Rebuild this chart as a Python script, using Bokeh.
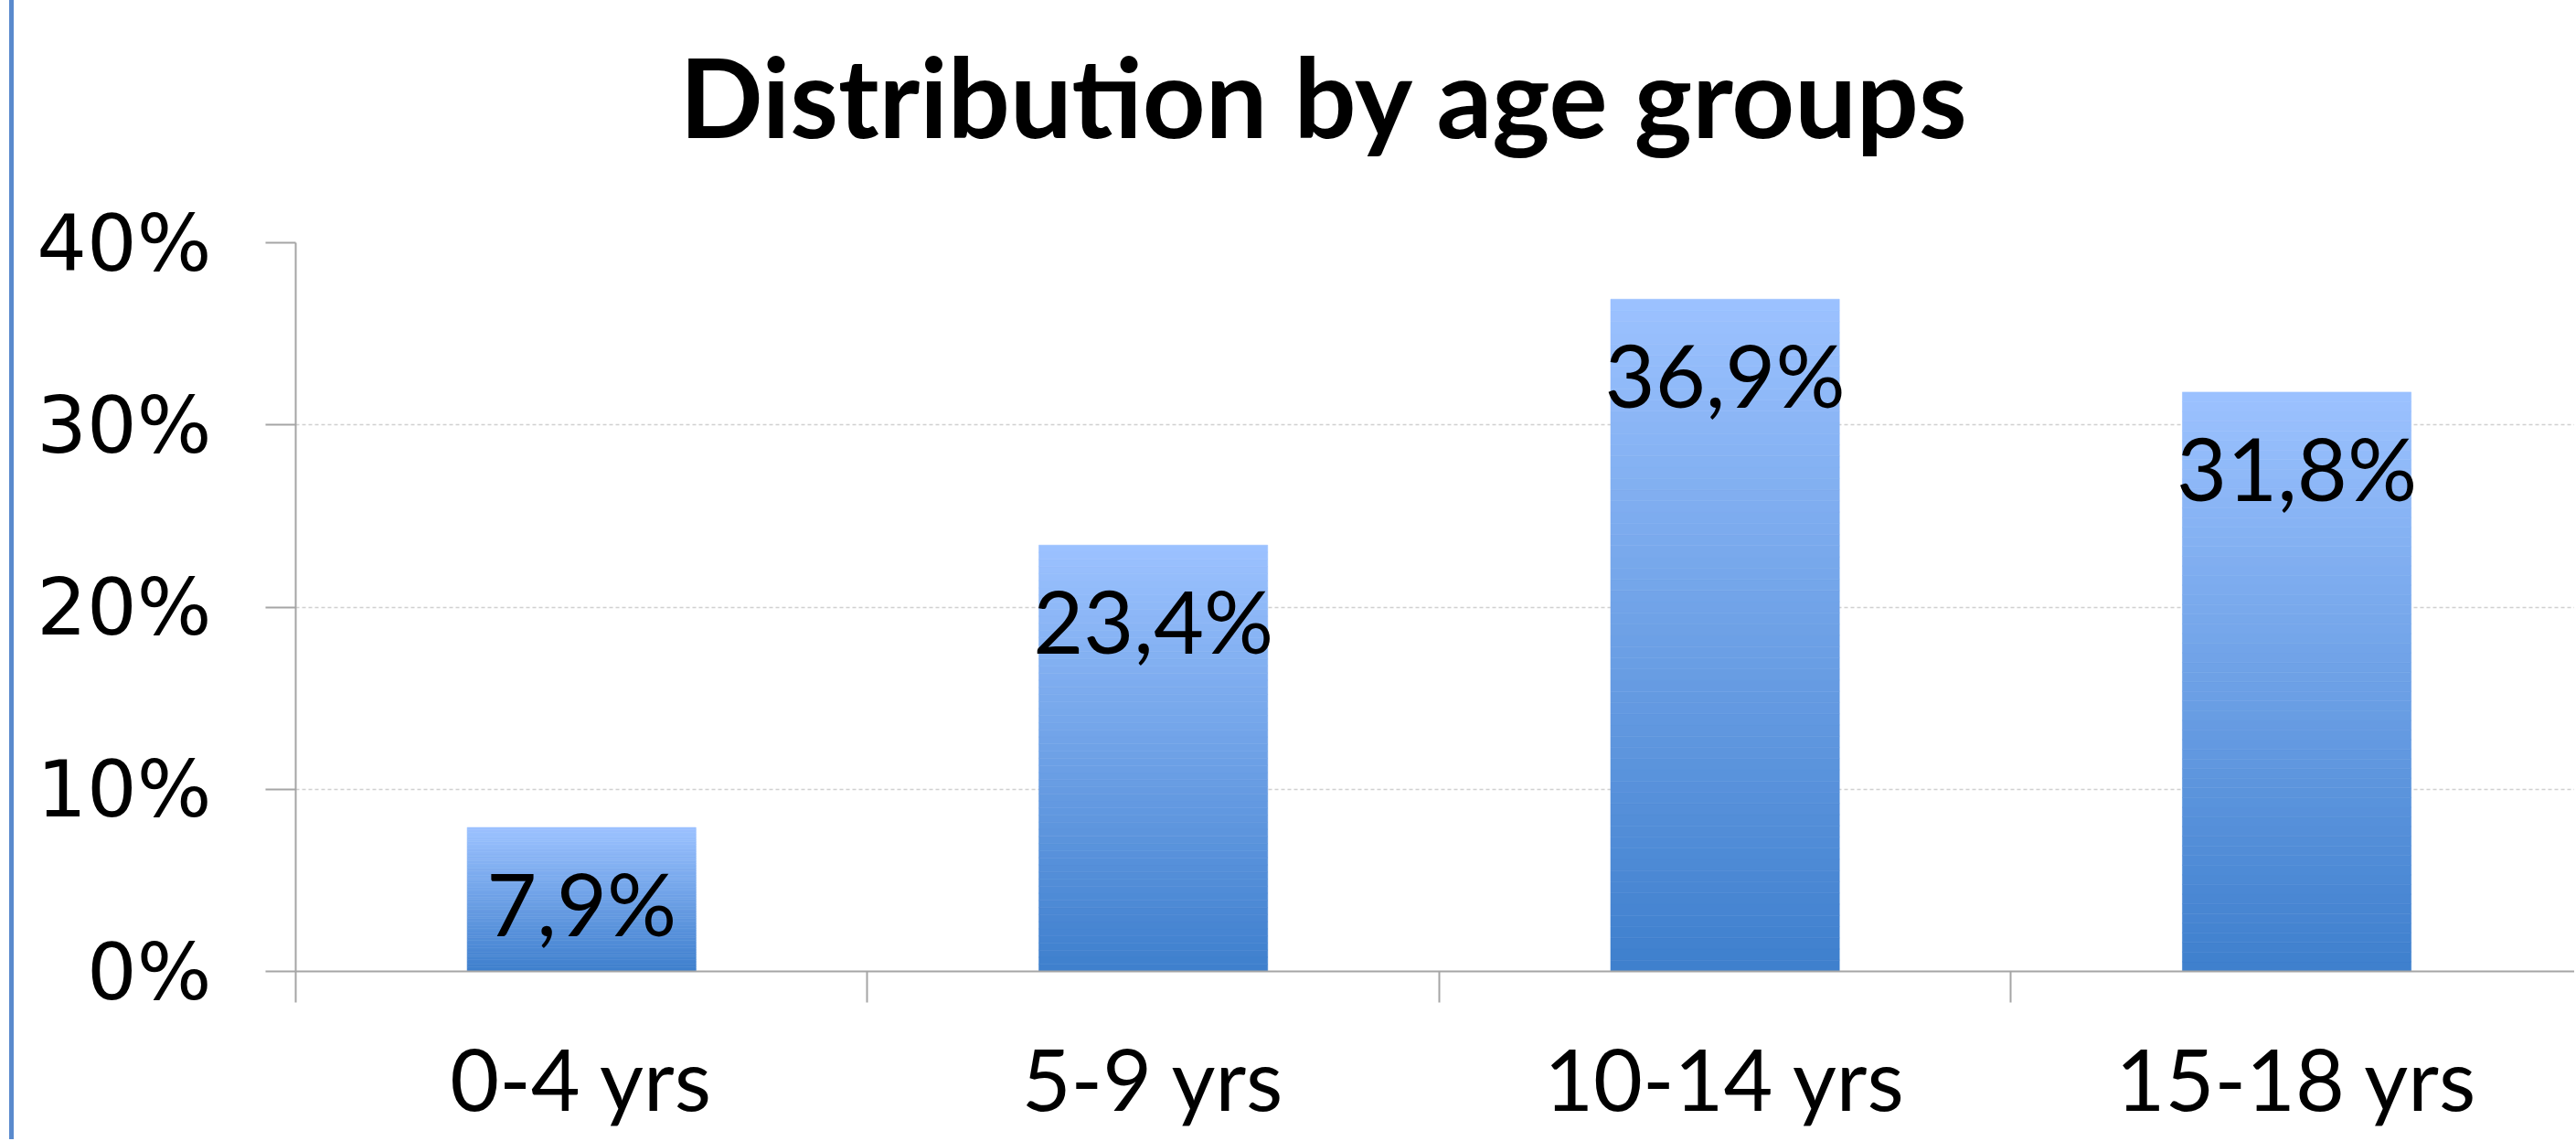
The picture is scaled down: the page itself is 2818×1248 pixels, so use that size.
from bokeh.plotting import figure
from bokeh.models import (Range1d, FixedTicker, PrintfTickFormatter, Title,
                          ColumnDataSource)
from bokeh.core.properties import value
from bokeh.embed import file_html
from bokeh.resources import INLINE

# ---- data ----
categories = ["0-4 yrs", "5-9 yrs", "10-14 yrs", "15-18 yrs"]
shares = [7.9, 23.4, 36.9, 31.8]          # percent
y_ticks = [0, 10, 20, 30, 40]
title_text = "Distribution by age groups"

# ---- styling ----
TOP_RGB = (156, 194, 255)
BOT_RGB = (62, 127, 205)
N_STRIPS = 60
W, H = 2816, 1246

def mix(t):
    r = [round(BOT_RGB[i] + (TOP_RGB[i] - BOT_RGB[i]) * t) for i in range(3)]
    return "#%02x%02x%02x" % tuple(r)

p = figure(width=W, height=H, output_backend="svg", toolbar_location=None,
           x_range=Range1d(0, 3.986), y_range=Range1d(0, 40),
           min_border_left=323, min_border_right=0, min_border_top=265,
           min_border_bottom=H - 265 - 797, outline_line_color=None,
           background_fill_color="white", border_fill_color=None)
# thin blue frame line at the left edge of the picture
p.styles = {"background": "linear-gradient(to right, #ffffff 10px, #5A8ACD 10px, "
                          "#5A8ACD 15px, #ffffff 15px)"}

# blank spacer between title and plot area (closest to the frame)
p.add_layout(Title(text=" ", text_font_size="1px", standoff=86), "above")

# title (stacked above the spacer)
p.add_layout(Title(text=title_text, align="left", offset=420, standoff=0,
                   text_font="Lato", text_font_style="bold",
                   text_font_size="120px", text_color="black"), "above")

# gradient bars: each bar drawn as stacked thin slices of its own height
xs, bottoms, tops, colors = [], [], [], []
for i, v in enumerate(shares):
    for k in range(N_STRIPS):
        xs.append(i + 0.5)
        bottoms.append(v * k / N_STRIPS)
        tops.append(v * (k + 1) / N_STRIPS)
        colors.append(mix((k + 0.5) / N_STRIPS))
bar_src = ColumnDataSource(dict(x=xs, bottom=bottoms, top=tops, color=colors))
p.vbar(x="x", bottom="bottom", top="top", width=0.4, source=bar_src,
       fill_color="color", line_color="color", line_width=0.6)

# data labels
lab_src = ColumnDataSource(dict(
    x=[i + 0.5 for i in range(len(shares))],
    y=shares,
    text=[("%.1f" % v).replace(".", ",") + "%" for v in shares]))
p.text(x="x", y="y", text="text", source=lab_src, text_align="center",
       text_baseline="alphabetic", y_offset=82,
       text_font=value("Lato"), text_font_size="95px", text_color="black")

# y axis
yax = p.left[0]
yax.ticker = FixedTicker(ticks=y_ticks, minor_ticks=[])
yax.formatter = PrintfTickFormatter(format="%d%%")
yax.major_tick_out = 33
yax.major_tick_in = 0
yax.minor_tick_out = 0
yax.major_label_standoff = 59
yax.major_label_text_font = "DejaVu Sans"
yax.major_label_text_font_size = "86px"
yax.major_label_text_color = "black"
yax.axis_line_color = "#A5A5A5"
yax.axis_line_width = 2
yax.major_tick_line_color = "#A5A5A5"
yax.major_tick_line_width = 2

# x axis: labels at category centres, tick marks at category boundaries
xax = p.below[0]
xax.ticker = FixedTicker(ticks=[i + 0.5 for i in range(len(categories))],
                         minor_ticks=list(range(len(categories) + 1)))
xax.major_label_overrides = {i + 0.5: c for i, c in enumerate(categories)}
xax.major_tick_out = 0
xax.major_tick_in = 0
xax.minor_tick_out = 34
xax.minor_tick_in = 0
xax.minor_tick_line_color = "#A5A5A5"
xax.minor_tick_line_width = 2
xax.major_label_standoff = 26
xax.major_label_text_font = "Lato"
xax.major_label_text_font_size = "93px"
xax.major_label_text_color = "black"
xax.axis_line_color = "#A5A5A5"
xax.axis_line_width = 2

# grid
p.xgrid.grid_line_color = None
p.ygrid.ticker = FixedTicker(ticks=y_ticks[1:])
p.ygrid.grid_line_color = "#D0D0D0"
p.ygrid.grid_line_width = 1.5
p.ygrid.grid_line_dash = "4 3"

open("out.html", "w").write(file_html(p, INLINE))
